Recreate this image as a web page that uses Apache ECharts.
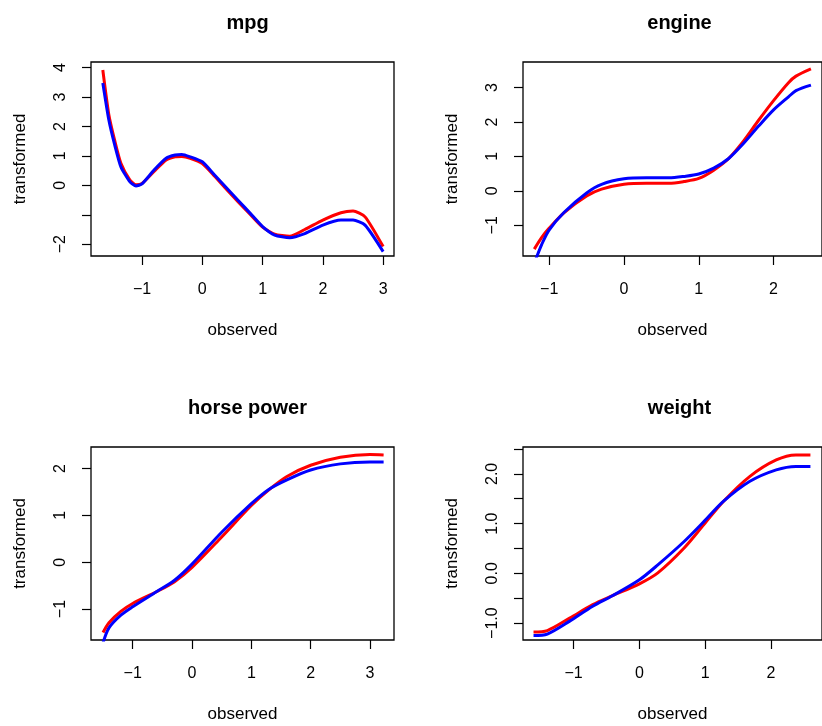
<!DOCTYPE html>
<html>
<head>
<meta charset="utf-8">
<script src="https://cdn.jsdelivr.net/npm/echarts@6/dist/echarts.min.js"></script>
<style>
html,body{margin:0;padding:0;background:#fff;}
#chart{width:822px;height:726px;}
</style>
</head>
<body>
<div id="chart"></div>
<script>
// ---- data ----
const panelTitles = ['mpg', 'engine', 'horse power', 'weight'];

const mpgX    = [-1.65, -1.55, -1.45, -1.35, -1.2, -1.1, -1.0, -0.8, -0.6, -0.45, -0.34, -0.2, 0, 0.2, 0.4, 0.6, 0.8, 1.0, 1.2, 1.45, 1.7, 2.0, 2.3, 2.5, 2.7, 3.0];
const mpgRed  = [3.92, 2.40, 1.50, 0.75, 0.18, 0.02, 0.06, 0.47, 0.86, 0.97, 0.98, 0.92, 0.74, 0.32, -0.13, -0.57, -1.00, -1.42, -1.66, -1.73, -1.50, -1.18, -0.93, -0.87, -1.07, -2.08];
const mpgBlue = [3.48, 2.22, 1.35, 0.63, 0.12, -0.02, 0.05, 0.52, 0.92, 1.03, 1.05, 0.97, 0.80, 0.36, -0.08, -0.52, -0.96, -1.40, -1.69, -1.78, -1.64, -1.35, -1.18, -1.18, -1.35, -2.25];

const engX    = [-1.2, -1.1, -1.0, -0.8, -0.5, -0.3, 0, 0.3, 0.6, 0.8, 1.0, 1.2, 1.4, 1.6, 1.8, 2.0, 2.2, 2.3, 2.5];
const engRed  = [-1.69, -1.35, -1.08, -0.63, -0.15, 0.05, 0.19, 0.22, 0.22, 0.27, 0.36, 0.60, 0.94, 1.45, 2.05, 2.62, 3.14, 3.33, 3.54];
const engBlue = [-2.10, -1.55, -1.13, -0.62, -0.06, 0.19, 0.35, 0.38, 0.38, 0.42, 0.49, 0.66, 0.94, 1.38, 1.88, 2.35, 2.73, 2.91, 3.07];

const hpX     = [-1.5, -1.4, -1.2, -1.0, -0.6, -0.3, 0, 0.5, 1.0, 1.3, 1.6, 2.0, 2.5, 3.0, 3.23];
const hpRed   = [-1.50, -1.29, -1.05, -0.88, -0.63, -0.42, -0.11, 0.54, 1.21, 1.55, 1.83, 2.07, 2.24, 2.30, 2.29];
const hpBlue  = [-1.72, -1.40, -1.13, -0.95, -0.63, -0.39, -0.04, 0.64, 1.25, 1.56, 1.76, 1.97, 2.10, 2.14, 2.14];

const wtX     = [-1.61, -1.4, -1.06, -0.71, -0.41, 0, 0.28, 0.68, 0.98, 1.28, 1.68, 2.08, 2.38, 2.6];
const wtRed   = [-1.18, -1.15, -0.90, -0.63, -0.45, -0.21, 0.01, 0.51, 0.98, 1.45, 1.95, 2.28, 2.38, 2.38];
const wtBlue  = [-1.25, -1.22, -0.96, -0.66, -0.45, -0.13, 0.17, 0.64, 1.04, 1.45, 1.85, 2.08, 2.15, 2.15];

// tick positions and labels
const mpgXTicks = [-1, 0, 1, 2, 3];
const mpgYTicks = [-2, -1, 0, 1, 2, 3, 4];
const mpgYLabels = [-2, 0, 1, 2, 3, 4];
const engXTicks = [-1, 0, 1, 2];
const engYTicks = [-1, 0, 1, 2, 3];
const hpXTicks = [-1, 0, 1, 2, 3];
const hpYTicks = [-1, 0, 1, 2];
const wtXTicks = [-1, 0, 1, 2];
const wtYTicks = [-1, -0.5, 0, 0.5, 1, 1.5, 2, 2.5];
const wtYLabels = [-1, 0, 1, 2];

// ---- layout ----
const FONT = 'Liberation Sans, Arial, Helvetica, sans-serif';
const grids = [
  {left: 91,  top: 62,  width: 303,   height: 194},
  {left: 523, top: 62,  width: 303.5, height: 194},
  {left: 91,  top: 447, width: 303,   height: 193},
  {left: 523, top: 447, width: 303.5, height: 193}
];
const limits = [
  {x: [-1.846, 3.18],  y: [-2.40, 4.19]},
  {x: [-1.351, 2.648], y: [-1.89, 3.74]},
  {x: [-1.703, 3.405], y: [-1.66, 2.46]},
  {x: [-1.77, 2.776],  y: [-1.34, 2.54]}
];
const panels = [
  {x: mpgX, red: mpgRed, blue: mpgBlue, xt: mpgXTicks, xl: mpgXTicks, yt: mpgYTicks, yl: mpgYLabels, dec: 0, sm: 0.2},
  {x: engX, red: engRed, blue: engBlue, xt: engXTicks, xl: engXTicks, yt: engYTicks, yl: engYTicks, dec: 0, sm: 0.3},
  {x: hpX,  red: hpRed,  blue: hpBlue,  xt: hpXTicks,  xl: hpXTicks,  yt: hpYTicks,  yl: hpYTicks,  dec: 0, sm: 0.3},
  {x: wtX,  red: wtRed,  blue: wtBlue,  xt: wtXTicks,  xl: wtXTicks,  yt: wtYTicks,  yl: wtYLabels, dec: 1, sm: 0.3}
];

function fmt(v, dec) {
  const s = Number(v).toFixed(dec);
  return s.replace('-', '\u2212');
}
function zip(xs, ys) { return xs.map((x, i) => [x, ys[i]]); }

const option = {
  animation: false,
  backgroundColor: '#ffffff',
  textStyle: {fontFamily: FONT},
  title: panelTitles.map((t, i) => ({
    text: t,
    left: grids[i].left + 151.5,
    top: i < 2 ? 8 : 393,
    textAlign: 'center',
    textStyle: {fontFamily: FONT, fontWeight: 'bold', fontSize: 20, color: '#000'}
  })),
  grid: grids.map(g => Object.assign({show: true, borderColor: '#000', borderWidth: 1.3, backgroundColor: 'transparent'}, g)),
  xAxis: panels.map((p, i) => ({
    type: 'value', gridIndex: i,
    min: limits[i].x[0], max: limits[i].x[1],
    name: 'observed', nameLocation: 'middle', nameGap: 66,
    nameTextStyle: {fontFamily: FONT, fontSize: 17, color: '#000'},
    axisLine: {show: false, onZero: false},
    splitLine: {show: false},
    axisTick: {show: true, inside: false, length: 9, customValues: p.xt, lineStyle: {color: '#000', width: 1.2}},
    axisLabel: {show: true, margin: 26, customValues: p.xl, fontFamily: FONT, fontSize: 16, color: '#000',
      formatter: v => fmt(v, 0)}
  })),
  yAxis: panels.map((p, i) => ({
    type: 'value', gridIndex: i,
    min: limits[i].y[0], max: limits[i].y[1],
    name: 'transformed', nameLocation: 'middle', nameGap: 62, nameRotate: 90,
    nameTextStyle: {fontFamily: FONT, fontSize: 17, color: '#000'},
    axisLine: {show: false, onZero: false},
    splitLine: {show: false},
    axisTick: {show: true, inside: false, length: 9, customValues: p.yt, lineStyle: {color: '#000', width: 1.2}},
    axisLabel: {show: true, rotate: 90, margin: 22, customValues: p.yl, fontFamily: FONT, fontSize: 16, color: '#000',
      formatter: v => fmt(v, p.dec)}
  })),
  series: []
};

panels.forEach((p, i) => {
  option.series.push({
    type: 'line', name: 'red', xAxisIndex: i, yAxisIndex: i,
    data: zip(p.x, p.red), showSymbol: false, smooth: p.sm, clip: true,
    lineStyle: {color: '#FF0000', width: 3}, itemStyle: {color: '#FF0000'}
  });
  option.series.push({
    type: 'line', name: 'blue', xAxisIndex: i, yAxisIndex: i,
    data: zip(p.x, p.blue), showSymbol: false, smooth: p.sm, clip: true,
    lineStyle: {color: '#0000FF', width: 3}, itemStyle: {color: '#0000FF'}
  });
});

const chart = echarts.init(document.getElementById('chart'), null, {renderer: 'canvas'});
chart.setOption(option);
</script>
</body>
</html>
